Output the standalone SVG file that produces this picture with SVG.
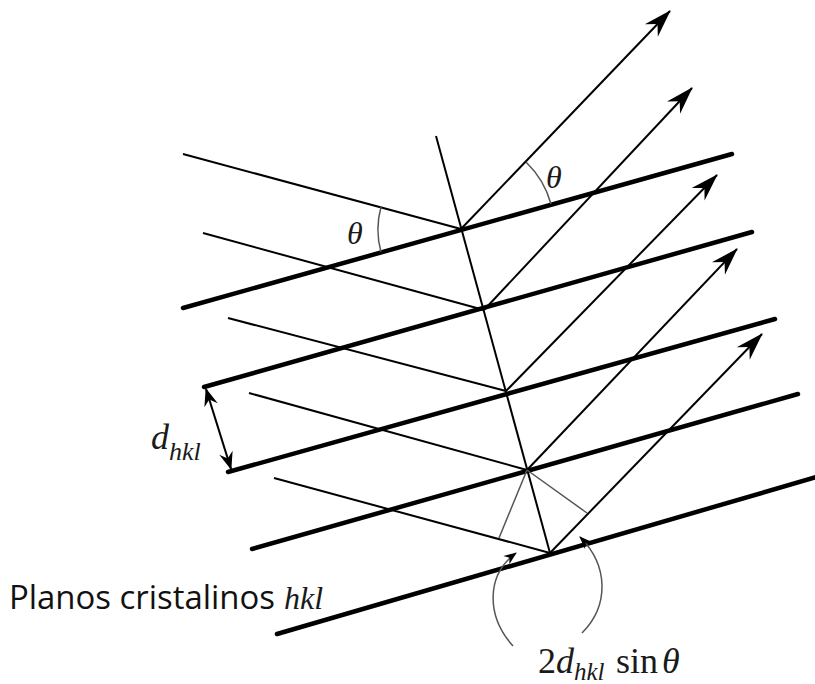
<svg xmlns="http://www.w3.org/2000/svg" width="815" height="684" viewBox="0 0 815 684">
<style>
.plane{stroke:#000;stroke-width:4.5;stroke-linecap:round;fill:none}
.ray{stroke:#000;stroke-width:2;fill:none}
.aux{stroke:#555;stroke-width:1.5;fill:none}
.serif{font-family:"Liberation Serif","Times New Roman",serif;font-style:italic;fill:#1a1a1a}
.up{font-family:"Liberation Serif","Times New Roman",serif;fill:#1a1a1a}
.sans{font-family:"Open Sans","Liberation Sans",sans-serif;fill:#111}
</style>
<defs>
<marker id="ah" markerUnits="userSpaceOnUse" markerWidth="32" markerHeight="22" viewBox="-30 -11 32 22" refX="0" refY="0" orient="auto"><path d="M1,0 L-27,-9 L-18,0 L-27,9 Z" fill="#000"/></marker>
<marker id="ad" markerUnits="userSpaceOnUse" markerWidth="22" markerHeight="18" viewBox="-20 -9 22 18" refX="0" refY="0" orient="auto-start-reverse"><path d="M1,0 L-17,-7 L-11,0 L-17,7 Z" fill="#000"/></marker>
<marker id="as" markerUnits="userSpaceOnUse" markerWidth="16" markerHeight="12" viewBox="-14 -6 16 12" refX="0" refY="0" orient="auto"><path d="M1,0 L-12,-5 L-8,0 L-12,5 Z" fill="#000"/></marker>
</defs>

<g id="planes">
<line class="plane" x1="183" y1="308" x2="732" y2="154"/>
<line class="plane" x1="204" y1="387" x2="752" y2="232"/>
<line class="plane" x1="228" y1="472" x2="775" y2="319"/>
<line class="plane" x1="252" y1="549" x2="798" y2="394"/>
<line class="plane" x1="277" y1="634" x2="820" y2="476"/>
</g>

<g id="connectors">
<line id="normal" class="ray" x1="436" y1="136" x2="550" y2="553"/>
<line class="ray" x1="183" y1="154" x2="461" y2="229"/>
<line class="ray" x1="203" y1="233" x2="484" y2="310"/>
<line class="ray" x1="228" y1="318" x2="506" y2="391"/>
<line class="ray" x1="249" y1="393" x2="527" y2="470"/>
<line class="ray" x1="274" y1="478" x2="550" y2="553"/>
<line class="ray" x1="461" y1="229" x2="670" y2="11" marker-end="url(#ah)"/>
<line class="ray" x1="484" y1="310" x2="692" y2="88" marker-end="url(#ah)"/>
<line class="ray" x1="506" y1="391" x2="717" y2="175" marker-end="url(#ah)"/>
<line class="ray" x1="527" y1="470" x2="737" y2="249" marker-end="url(#ah)"/>
<line class="ray" x1="550" y1="553" x2="762" y2="334" marker-end="url(#ah)"/>
<line class="aux" x1="527" y1="470" x2="499" y2="538"/>
<line class="aux" x1="527" y1="470" x2="587" y2="513"/>
<path class="aux" d="M381,207 A84,84 0 0 0 381,252"/>
<path class="aux" d="M526,162 A93,93 0 0 1 551,204"/>
<line class="ray" x1="206" y1="389" x2="231" y2="469" marker-start="url(#ad)" marker-end="url(#ad)"/>
<path class="aux" d="M513,646 C486,616 486,575 516,553" marker-end="url(#as)"/>
<path class="aux" d="M582,633 C609,606 609,566 580,537" marker-end="url(#as)"/>
</g>

<g id="labels">
<text class="serif" x="347" y="244" font-size="32">θ</text>
<text class="serif" x="546" y="188" font-size="32">θ</text>
<text class="serif" x="151" y="449" font-size="36">d<tspan font-size="26" dy="11">hkl</tspan></text>
<text class="sans" x="9" y="609" font-size="32" textLength="266" lengthAdjust="spacingAndGlyphs">Planos cristalinos</text>
<text class="serif" x="284" y="609" font-size="32">hkl</text>
<text class="up" x="538" y="673" font-size="36">2<tspan class="serif">d</tspan><tspan class="serif" font-size="25" dy="7">hkl</tspan><tspan x="616" y="673">sin</tspan><tspan class="serif" x="662" y="673">θ</tspan></text>
</g>
</svg>
